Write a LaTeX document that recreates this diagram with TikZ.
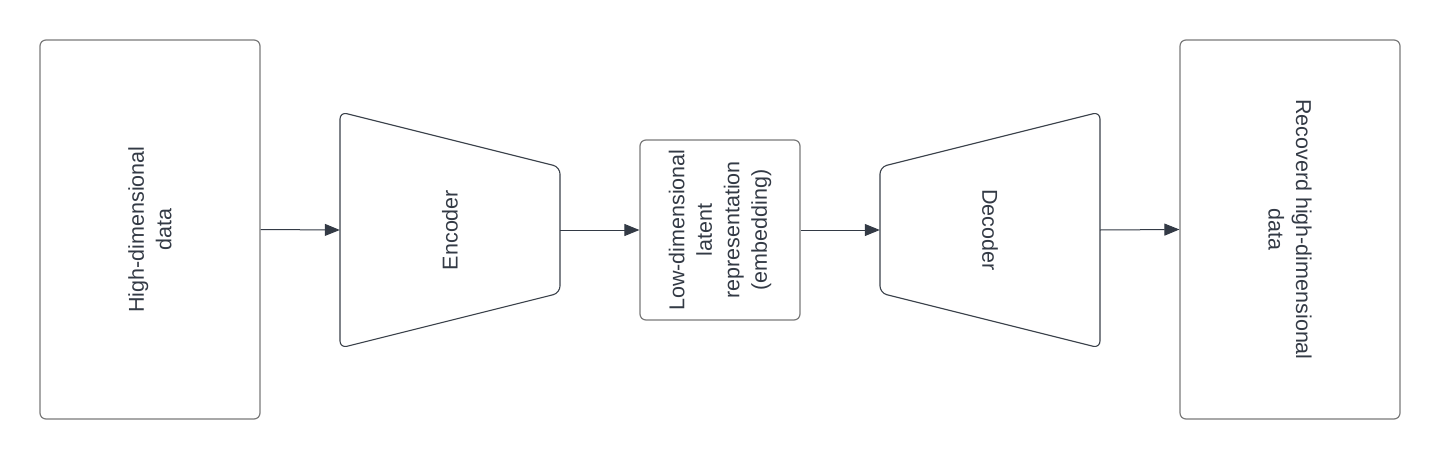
\documentclass[tikz,border=0pt]{standalone}
\usepackage{fontspec}
\setmainfont{Liberation Sans}
\usetikzlibrary{arrows.meta}
\definecolor{rectc}{HTML}{7A7A7A}
\definecolor{trapc}{HTML}{3A414A}
\definecolor{linec}{HTML}{333A45}
\definecolor{txtc}{HTML}{333A45}
\tikzset{
  box/.style={draw=rectc, line width=1.2pt, rounded corners=6pt, inner sep=0pt},
  trap/.style={draw=trapc, line width=1.1pt, rounded corners=7pt},
  label/.style={text=txtc, align=center, inner sep=0pt, font=\fontsize{21.5}{27.5}\selectfont},
  conn/.style={draw=linec, line width=1pt, -{Triangle[length=15pt,width=12pt]}},
  holder/.style={inner sep=0pt, minimum width=220pt, minimum height=236pt}
}
\begin{document}
\begin{tikzpicture}[x=1pt,y=-1pt]
\useasboundingbox (0,0) rectangle (1440,460);
% boxes
\node[box, minimum width=220pt, minimum height=379pt] (hd) at (150,229.5) {};
\node[label, rotate=90] (hdt) at (hd.center) {High-dimensional\\data};
\node[box, minimum width=160pt, minimum height=180pt] (lat) at (720,230) {};
\node[label, rotate=90] (latt) at (lat.center) {Low-dimensional\\latent\\representation\\(embedding)};
\node[box, minimum width=220pt, minimum height=379pt] (rec) at (1290,229.5) {};
\node[label, rotate=-90] (rect) at (rec.center) {Recoverd high-dimensional\\data};
% encoder
\draw[trap] (340,112) -- (560,167) -- (560,293) -- (340,348) -- cycle;
\node[holder] (enc) at (450,230) {};
\node[label, rotate=90] (enct) at (enc.center) {Encoder};
% decoder
\draw[trap] (880,167) -- (1100,112) -- (1100,348) -- (880,293) -- cycle;
\node[holder] (dec) at (990,230) {};
\node[label, rotate=-90] (dect) at (dec.center) {Decoder};
% connectors
\draw[conn] (hd.east) -- (enc.west);
\draw[conn] (enc.east) -- (lat.west);
\draw[conn] (lat.east) -- (dec.west);
\draw[conn] (dec.east) -- (rec.west);
\end{tikzpicture}
\end{document}
